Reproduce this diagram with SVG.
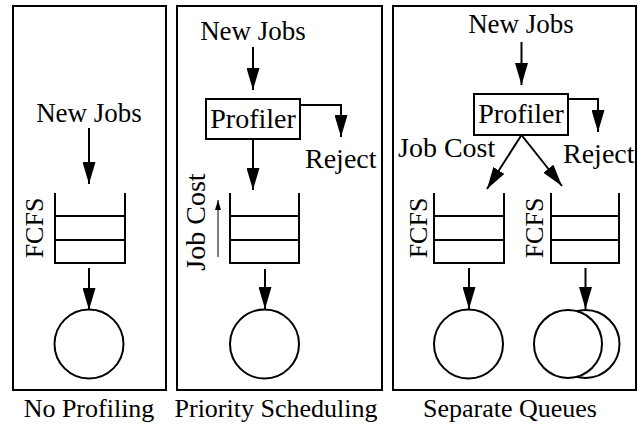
<svg xmlns="http://www.w3.org/2000/svg" width="638" height="427" viewBox="0 0 638 427">
  <style>
    .frame { fill: none; stroke: #000; stroke-width: 2; }
    .box { fill: #fff; stroke: #000; stroke-width: 2; }
    .q { fill: none; stroke: #000; stroke-width: 2; }
    .srv { fill: #fff; stroke: #000; stroke-width: 2; }
    .edge { fill: none; stroke: #000; stroke-width: 2; marker-end: url(#head); }
    .thin { fill: none; stroke: #000; stroke-width: 1; marker-end: url(#headSmall); }
    text { fill: #000; font-family: "Liberation Serif", "Times New Roman", Times, serif; }
    .lbl { font-size: 27px; }
    .big { font-size: 28px; }
    .cap { font-size: 26px; }
    .mid { text-anchor: middle; }
  </style>
  <defs>
    <marker id="head" markerUnits="userSpaceOnUse" markerWidth="22" markerHeight="13" refX="22" refY="6.5" orient="auto">
      <path d="M0,0 L22,6.5 L0,13 Z" fill="#000"/>
    </marker>
    <marker id="headSmall" markerUnits="userSpaceOnUse" markerWidth="10" markerHeight="6" refX="10" refY="3" orient="auto">
      <path d="M0,0 L10,3 L0,6 Z" fill="#000"/>
    </marker>
  </defs>

  <!-- panel frames -->
  <g id="panel-no-profiling"><rect class="frame" x="13" y="6" width="153" height="384"/></g>
  <g id="panel-priority"><rect class="frame" x="177" y="6" width="205" height="384"/></g>
  <g id="panel-separate"><rect class="frame" x="393" y="6" width="243" height="384"/></g>

  <!-- panel 1 -->
  <g id="p1-source"><text class="lbl mid" x="89" y="122">New Jobs</text></g>
  <g id="p1-queue">
    <path class="q" d="M55,193 V263 H125 V193 M55,216 H125 M55,240 H125"/>
    <text class="cap mid" transform="translate(43,228) rotate(-90)">FCFS</text>
  </g>
  <g id="p1-server"><circle class="srv" cx="89" cy="344" r="34.5"/></g>

  <!-- panel 2 -->
  <g id="p2-source"><text class="lbl mid" x="253" y="40">New Jobs</text></g>
  <g id="p2-profiler">
    <rect class="box" x="206" y="99" width="94" height="40"/>
    <text class="big mid" x="253" y="128">Profiler</text>
  </g>
  <g id="p2-reject"><text class="big" x="305" y="168">Reject</text></g>
  <g id="p2-queue">
    <path class="q" d="M230,193 V263 H299 V193 M230,216 H299 M230,240 H299"/>
    <text class="big mid" transform="translate(205,222) rotate(-90)">Job Cost</text>
  </g>
  <g id="p2-server"><circle class="srv" cx="264.5" cy="344" r="34.5"/></g>

  <!-- panel 3 -->
  <g id="p3-source"><text class="lbl mid" x="521" y="33">New Jobs</text></g>
  <g id="p3-profiler">
    <rect class="box" x="474" y="94" width="94" height="41"/>
    <text class="big mid" x="521" y="123">Profiler</text>
  </g>
  <g id="p3-reject"><text class="big" x="563" y="163">Reject</text></g>
  <g id="p3-jobcost"><text class="big" x="398" y="157">Job Cost</text></g>
  <g id="p3-queue-a">
    <path class="q" d="M434,193 V263 H504 V193 M434,216 H504 M434,240 H504"/>
    <text class="cap mid" transform="translate(427,228) rotate(-90)">FCFS</text>
  </g>
  <g id="p3-queue-b">
    <path class="q" d="M551,193 V263 H619 V193 M551,216 H619 M551,240 H619"/>
    <text class="cap mid" transform="translate(543,228) rotate(-90)">FCFS</text>
  </g>
  <g id="p3-server-a"><circle class="srv" cx="468.5" cy="344" r="34.5"/></g>
  <g id="p3-server-b">
    <circle class="srv" cx="585.5" cy="344" r="34"/>
    <circle class="srv" cx="568" cy="344" r="34"/>
  </g>

  <!-- captions -->
  <g id="captions">
    <text class="cap mid" x="89" y="417">No Profiling</text>
    <text class="cap mid" x="276" y="417">Priority Scheduling</text>
    <text class="cap mid" x="510" y="417">Separate Queues</text>
  </g>

  <!-- connectors -->
  <g id="connectors">
    <path class="edge" d="M89,128 V184"/>
    <path class="edge" d="M89,268 V310"/>
    <path class="edge" d="M253,47 V90"/>
    <path class="edge" d="M300,105 H341 V137"/>
    <path class="edge" d="M253,139 V190"/>
    <path class="thin" d="M218,257 V200"/>
    <path class="edge" d="M265,269 V309"/>
    <path class="edge" d="M521.5,42 V85"/>
    <path class="edge" d="M568,99 H598 V132"/>
    <path class="edge" d="M521.5,135 L487,189"/>
    <path class="edge" d="M521.5,135 L562,186"/>
    <path class="edge" d="M469,268 V309"/>
    <path class="edge" d="M585.5,268 V309"/>
  </g>
</svg>
